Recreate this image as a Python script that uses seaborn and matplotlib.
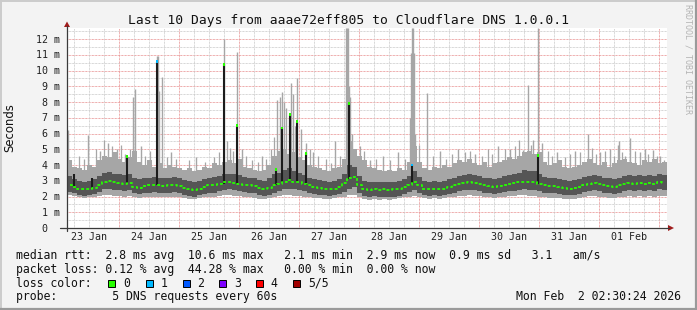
import matplotlib
matplotlib.use("Agg")
import matplotlib.pyplot as plt
import numpy as np
import pandas as pd
import seaborn as sns
from matplotlib.patches import Rectangle, Polygon
from matplotlib.lines import Line2D

sns.set_style("white")
plt.rcParams['font.family'] = ['DejaVu Sans Mono']

# ---------------- data ----------------
title = "Last 10 Days from aaae72eff805 to Cloudflare DNS 1.0.0.1"
ylabel = "Seconds"
watermark = "RRDTOOL / TOBI OETIKER"
day_labels = ["23 Jan", "24 Jan", "25 Jan", "26 Jan", "27 Jan",
              "28 Jan", "29 Jan", "30 Jan", "31 Jan", "01 Feb"]
ytick_values = [0, 1, 2, 3, 4, 5, 6, 7, 8, 9, 10, 11, 12]
ytick_labels = ["0  ", "1 m", "2 m", "3 m", "4 m", "5 m", "6 m", "7 m",
                "8 m", "9 m", "10 m", "11 m", "12 m"]

# window start (days after 23 Jan 00:00) and bucket length (hours)
window_start_day = 0.1333
bucket_hours = 2.0

# median rtt per 2h bucket (ms)
median = [2.75, 2.6, 2.5, 2.45, 2.5, 2.55, 2.75, 2.95, 3.0, 2.9,
          2.85, 2.8, 2.85, 2.6, 2.55, 2.65, 2.7, 2.75, 2.7, 2.65,
          2.7, 2.75, 2.65, 2.55, 2.5, 2.4, 2.5, 2.6, 2.7, 2.7,
          2.8, 2.9, 2.95, 2.85, 2.8, 2.75, 2.7, 2.65, 2.55, 2.45,
          2.55, 2.7, 2.8, 2.95, 3.05, 2.95, 2.9, 2.8, 2.7, 2.6,
          2.55, 2.5, 2.45, 2.5, 2.6, 2.85, 3.2, 3.25, 2.7, 2.45,
          2.4, 2.45, 2.4, 2.45, 2.4, 2.45, 2.5, 2.6, 2.75, 2.9,
          2.7, 2.5, 2.45, 2.5, 2.45, 2.5, 2.6, 2.7, 2.8, 2.85,
          2.9, 2.85, 2.8, 2.7, 2.65, 2.6, 2.65, 2.75, 2.8, 2.85,
          2.9, 2.95, 2.9, 2.9, 2.8, 2.7, 2.65, 2.65, 2.6, 2.55,
          2.5, 2.55, 2.6, 2.75, 2.8, 2.85, 2.8, 2.7, 2.65, 2.6,
          2.7, 2.8, 2.85, 2.8, 2.85, 2.8, 2.85, 2.8, 2.9, 2.85]

dark_lo = [2.3, 2.2, 2.1, 2.05, 2.1, 2.15, 2.3, 2.45, 2.5, 2.4,
           2.4, 2.35, 2.4, 2.2, 2.15, 2.2, 2.25, 2.3, 2.25, 2.2,
           2.25, 2.3, 2.2, 2.1, 2.05, 2.0, 2.1, 2.15, 2.25, 2.25,
           2.35, 2.4, 2.45, 2.4, 2.35, 2.3, 2.25, 2.2, 2.1, 2.05,
           2.1, 2.25, 2.35, 2.45, 2.5, 2.45, 2.4, 2.35, 2.25, 2.15,
           2.1, 2.1, 2.05, 2.1, 2.15, 2.3, 2.5, 2.6, 2.25, 2.05,
           2.0, 2.05, 2.0, 2.0, 1.95, 2.0, 2.05, 2.15, 2.3, 2.4,
           2.25, 2.1, 2.05, 2.1, 2.05, 2.1, 2.15, 2.25, 2.35, 2.4,
           2.4, 2.4, 2.35, 2.25, 2.2, 2.15, 2.2, 2.3, 2.35, 2.35,
           2.4, 2.45, 2.4, 2.4, 2.35, 2.25, 2.2, 2.2, 2.15, 2.1,
           2.1, 2.1, 2.15, 2.3, 2.35, 2.4, 2.35, 2.25, 2.2, 2.15,
           2.25, 2.35, 2.4, 2.35, 2.4, 2.35, 2.4, 2.35, 2.45, 2.4]

dark_hi = [3.3, 3.1, 3.0, 2.95, 3.0, 3.1, 3.3, 3.5, 3.55, 3.45,
           3.4, 3.35, 3.4, 3.15, 3.1, 3.2, 3.2, 3.25, 3.2, 3.15,
           3.2, 3.25, 3.15, 3.05, 3.0, 2.95, 3.0, 3.1, 3.2, 3.25,
           3.3, 3.4, 3.45, 3.4, 3.35, 3.25, 3.2, 3.15, 3.05, 3.0,
           3.15, 3.4, 3.5, 3.7, 3.8, 3.6, 3.5, 3.35, 3.2, 3.1,
           3.05, 3.0, 2.95, 3.0, 3.1, 3.4, 4.0, 3.9, 3.3, 3.0,
           2.9, 2.95, 2.9, 2.95, 2.9, 2.95, 3.0, 3.1, 3.3, 3.6,
           3.25, 3.0, 2.95, 3.0, 2.95, 3.0, 3.1, 3.2, 3.3, 3.35,
           3.4, 3.35, 3.3, 3.2, 3.15, 3.1, 3.15, 3.3, 3.35, 3.4,
           3.5, 3.7, 3.65, 3.6, 3.4, 3.25, 3.15, 3.15, 3.1, 3.05,
           3.0, 3.05, 3.1, 3.25, 3.3, 3.35, 3.3, 3.2, 3.15, 3.1,
           3.2, 3.3, 3.35, 3.3, 3.35, 3.3, 3.35, 3.3, 3.4, 3.35]

light_lo = [2.1, 2.05, 1.95, 1.9, 1.95, 2.0, 2.05, 2.1, 2.1, 2.05,
            2.05, 2.0, 2.05, 1.95, 1.9, 1.95, 2.0, 2.0, 1.95, 1.95,
            2.0, 2.0, 1.95, 1.9, 1.85, 1.85, 1.9, 1.95, 2.0, 2.0,
            2.05, 2.1, 2.1, 2.05, 2.05, 2.0, 1.95, 1.9, 1.85, 1.85,
            1.9, 2.0, 2.05, 2.1, 2.1, 2.05, 2.05, 2.0, 1.95, 1.9,
            1.9, 1.85, 1.85, 1.9, 1.95, 2.0, 2.1, 2.1, 1.95, 1.85,
            1.8, 1.85, 1.8, 1.85, 1.8, 1.85, 1.9, 1.95, 2.0, 2.05,
            1.95, 1.9, 1.85, 1.9, 1.85, 1.9, 1.95, 2.0, 2.05, 2.05,
            2.1, 2.05, 2.05, 2.0, 1.95, 1.9, 1.95, 2.0, 2.05, 2.05,
            2.1, 2.1, 2.05, 2.05, 2.0, 1.95, 1.9, 1.9, 1.9, 1.85,
            1.85, 1.85, 1.9, 2.0, 2.05, 2.05, 2.0, 1.95, 1.9, 1.9,
            1.95, 2.0, 2.05, 2.0, 2.05, 2.0, 2.05, 2.0, 2.05, 2.05]

light_hi = [4.3, 3.9, 3.8, 3.7, 4.0, 3.9, 4.3, 4.6, 4.5, 4.8,
            4.4, 4.2, 4.5, 4.9, 4.2, 4.0, 4.3, 3.9, 4.1, 3.8,
            4.0, 3.9, 3.8, 3.7, 3.8, 3.6, 3.7, 3.9, 3.8, 4.1,
            4.0, 4.2, 4.3, 4.1, 4.4, 3.9, 3.8, 3.7, 3.6, 3.7,
            4.0, 4.6, 4.9, 5.0, 4.7, 4.8, 4.5, 4.3, 4.0, 3.9,
            3.8, 3.7, 3.6, 3.8, 3.9, 4.4, 5.5, 5.0, 4.6, 4.3,
            3.9, 3.8, 3.7, 3.6, 3.7, 3.6, 3.8, 3.7, 4.2, 5.2,
            4.2, 3.8, 3.7, 3.9, 3.8, 4.0, 3.9, 4.1, 4.3, 4.2,
            4.4, 4.1, 4.0, 4.2, 3.9, 4.1, 4.2, 4.3, 4.5, 4.4,
            4.6, 4.8, 4.9, 4.7, 4.8, 4.2, 4.0, 4.1, 4.3, 3.9,
            3.8, 3.9, 4.0, 4.2, 4.4, 4.1, 4.0, 4.2, 3.9, 4.1,
            4.3, 4.4, 4.2, 4.1, 4.0, 4.3, 4.2, 4.4, 4.1, 4.2]

# single-ping outliers (thin smoke wisps): time (days after 23 Jan 00:00), max rtt (ms)
wisp_day = [0.150, 0.483, 0.683, 0.817, 0.967, 1.100, 1.233, 1.267, 1.367, 1.633,
            1.650, 1.667, 1.717, 1.867, 2.283, 2.750, 2.800, 2.850, 2.967, 3.050,
            3.383, 3.633, 3.683, 3.717, 3.750, 3.783, 3.867, 3.900, 3.967, 4.033,
            4.117, 4.233, 4.600, 4.783, 4.800, 4.817, 4.833, 4.850, 4.883, 5.183,
            5.400, 5.650, 5.850, 5.867, 5.883, 5.900, 5.917, 5.933, 6.133, 6.350,
            6.650, 6.933, 7.317, 7.517, 7.733, 7.817, 7.900, 7.983, 8.050, 8.300,
            8.600, 8.817, 9.017, 9.183, 9.317, 9.333, 9.433, 9.517, 9.683, 9.767,
            9.900, 10.017]
wisp_top = [6.2, 5.9, 4.9, 5.4, 5.0, 4.7, 8.3, 8.8, 5.2, 10.9,
            10.9, 8.7, 9.6, 4.8, 4.5, 12.0, 5.5, 5.1, 11.2, 5.0,
            4.6, 8.1, 8.3, 8.65, 8.0, 7.6, 9.2, 8.5, 9.5, 6.3,
            5.4, 4.8, 5.5, 12.7, 12.7, 12.7, 9.0, 8.3, 6.0, 4.3,
            4.6, 4.8, 7.0, 11.1, 12.7, 12.7, 11.1, 6.0, 8.6, 4.9,
            5.0, 4.7, 5.2, 5.0, 4.95, 9.1, 5.6, 12.7, 5.4, 4.8,
            4.9, 6.0, 4.8, 5.0, 5.3, 5.5, 4.6, 5.7, 4.8, 5.0,
            4.95, 4.6]

# smaller outliers that make the ragged top edge of the smoke
small_wisp_day = [0.333, 0.417, 0.617, 0.750, 0.883, 1.033, 1.183, 1.433, 1.517, 1.800,
                  1.950, 2.167, 2.433, 2.583, 2.667, 2.900, 3.117, 3.217, 3.317, 3.450,
                  3.533, 3.583, 3.833, 3.933, 4.183, 4.317, 4.450, 4.533, 4.683, 5.017,
                  5.083, 5.283, 5.517, 5.767, 6.000, 6.233, 6.450, 6.550, 6.767, 6.850,
                  7.050, 7.150, 7.217, 7.433, 7.600, 7.667, 7.867, 8.150, 8.217, 8.433,
                  8.517, 8.683, 8.883, 8.950, 9.100, 9.250, 9.383, 9.600, 9.817, 9.967,
                  10.083]
small_wisp_top = [4.6, 4.4, 5.0, 5.6, 5.2, 5.3, 5.0, 4.6, 4.9, 4.5,
                  4.4, 4.3, 4.2, 4.5, 4.8, 4.9, 4.6, 4.3, 4.2, 4.4,
                  5.0, 5.8, 7.0, 6.5, 5.0, 4.6, 4.4, 4.1, 4.6, 5.2,
                  4.9, 4.4, 4.3, 4.4, 5.3, 4.6, 4.4, 4.7, 4.8, 4.9,
                  4.6, 5.0, 4.7, 5.0, 5.2, 5.6, 5.3, 4.9, 4.6, 4.5,
                  4.7, 4.8, 5.1, 4.7, 4.9, 4.6, 4.8, 4.9, 4.7, 4.6,
                  4.3]

# median spikes: time (days), median before spike, median peak (ms), loss class at peak (-1 = none)
spike_day = [0.250, 0.550, 1.133, 1.633, 2.750, 2.967, 3.617, 3.717, 3.850, 3.967,
             4.117, 4.833, 5.883, 7.983]
spike_base = [2.6, 2.55, 2.85, 2.75, 2.8, 2.8, 2.75, 2.9, 3.0, 2.9,
              2.75, 3.1, 2.85, 2.8]
spike_top = [3.4, 3.2, 4.55, 10.55, 10.4, 6.5, 3.7, 6.35, 7.2, 6.75,
             4.75, 7.9, 4.0, 4.6]
spike_loss = [-1, -1, 0, 1, 0, 0, 0, 0, 0, 0, 0, 0, 1, 0]

# legend content
rtt_stats = [2.8, 10.6, 2.1, 2.9, 0.9, 3.1]
loss_stats = [0.12, 44.28, 0.00, 0.00]
loss_labels = ["0", "1", "2", "3", "4", "5/5"]
loss_colors = ["#26ff00", "#00b8ff", "#0059ff", "#7e00ff", "#ff0000", "#a10000"]
probe_text = "5 DNS requests every 60s"
timestamp = "Mon Feb  2 02:30:24 2026"

# ---------------- figure ----------------
W, H = 697, 310
PX_PER_MS = 15.75
fig = plt.figure(figsize=(W / 100, H / 100), dpi=100)
fig.patch.set_facecolor('#f3f3f3')


def fx(x):
    return x / W


def fy(y):
    return 1 - y / H


ax = fig.add_axes([fx(67), fy(228), 600 / W, 200 / H])
ax.set_facecolor('white')
ax.set_xlim(window_start_day, window_start_day + 10)
ax.set_ylim(0, 200 / PX_PER_MS)
for s in ax.spines.values():
    s.set_visible(False)
ax.set_xticks([])
ax.set_yticks([])

# grid
dot = (0, (0.72, 0.72))
for k in range(1, 26):
    v = k * 0.5
    if v > 12.7:
        break
    major = (k % 2 == 0)
    ax.axhline(v, color='#e88f8f' if major else '#c9c9c9', lw=0.72,
               ls=dot, zorder=0.5)
for k in range(0, 45):
    v = k * 0.25
    if v <= window_start_day or v >= window_start_day + 10:
        continue
    major = (k % 4 == 0)
    ax.axvline(v, color='#e88f8f' if major else '#c9c9c9', lw=0.72,
               ls=dot, zorder=0.5)

# smoke
n = len(median)
bucket_days = bucket_hours / 24.0
centers = window_start_day + (np.arange(n) + 0.5) * bucket_days
df = pd.DataFrame({"t": centers, "median": median, "dlo": dark_lo, "dhi": dark_hi,
                   "llo": light_lo, "lhi": light_hi})

light_col = '#a6a6a6'
dark_col = '#555555'
ax.bar(df.t, df.lhi - df.llo, bottom=df.llo, width=bucket_days,
       color=light_col, linewidth=0, antialiased=False, zorder=2)
ax.vlines(wisp_day, 3.0, wisp_top, colors=light_col, lw=1.0, zorder=2.1)
ax.vlines(small_wisp_day, 3.0, small_wisp_top, colors=light_col, lw=0.9, zorder=2.1)
ax.bar(df.t, df.dhi - df.dlo, bottom=df.dlo, width=bucket_days,
       color=dark_col, linewidth=0, antialiased=False, zorder=3)
ax.vlines(spike_day, spike_base, spike_top, colors='#1c1c1c', lw=1.5, zorder=4)

sns.lineplot(data=df, x="t", y="median", color=loss_colors[0], lw=1.3,
             drawstyle='steps-mid', dashes=False, ax=ax, zorder=5, legend=False,
             linestyle=(0, (1.6, 1.2)))
ax.set_xlabel("")
ax.set_ylabel("")

dots = [(d, t, loss_colors[c]) for d, t, c in zip(spike_day, spike_top, spike_loss) if c >= 0]
ax.scatter([d[0] for d in dots], [d[1] for d in dots], c=[d[2] for d in dots],
           marker='s', s=4, linewidths=0, zorder=6)

# tick labels
axis_fs = 7.2
for v, lab in zip(ytick_values, ytick_labels):
    ax.text(window_start_day - 7 / 60, v - 3.6 / PX_PER_MS, lab, ha='right',
            va='baseline', fontsize=axis_fs, color='#222222', clip_on=False)
for i, lab in enumerate(day_labels):
    ax.text(i + 0.5, -12.5 / PX_PER_MS, lab, ha='center', va='baseline',
            fontsize=axis_fs, color='#222222', clip_on=False)

# axes lines and arrows
axis_col = '#3a3a3a'
arrow_col = '#a01c1c'
fig.add_artist(Line2D([fx(60), fx(669)], [fy(228), fy(228)], color=axis_col, lw=0.9))
fig.add_artist(Line2D([fx(67), fx(67)], [fy(231), fy(26)], color=axis_col, lw=0.9))
fig.add_artist(Polygon([[fx(64), fy(27)], [fx(70), fy(27)], [fx(67), fy(21.5)]],
                       closed=True, color=arrow_col, lw=0))
fig.add_artist(Polygon([[fx(668), fy(225)], [fx(668), fy(231)], [fx(674), fy(228)]],
                       closed=True, color=arrow_col, lw=0))

# titles
fig.text(fx(348), fy(24), title, ha='center', va='baseline', fontsize=9.4, color='#111111')
fig.text(fx(10), fy(127.5), ylabel, ha='center', va='center', rotation=90,
         fontsize=8.4, color='#111111', family=['DejaVu Sans'])
fig.text(fx(688), fy(4), watermark, ha='center', va='top', rotation=270,
         fontsize=6.0, color='#b4b4b4')

# legend
leg_fs = 8.3
line1 = ("median rtt:  {:.1f} ms avg  {:.1f} ms max   {:.1f} ms min  {:.1f} ms now  "
         "{:.1f} ms sd   {:.1f}   am/s").format(*rtt_stats)
line2 = ("packet loss: {:.2f} % avg  {:.2f} % max   {:.2f} % min  {:.2f} % now"
         ).format(*loss_stats)
fig.text(fx(15.5), fy(259.3), line1, ha='left', va='baseline', fontsize=leg_fs, color='#111111')
fig.text(fx(15.5), fy(273.0), line2, ha='left', va='baseline', fontsize=leg_fs, color='#111111')
fig.text(fx(15.5), fy(286.7), "loss color:", ha='left', va='baseline', fontsize=leg_fs,
         color='#111111')
box_x = [108.3, 145.7, 182.7, 219.3, 256.0, 293.3]
for bx, lab, col in zip(box_x, loss_labels, loss_colors):
    fig.add_artist(Rectangle((fx(bx), fy(286.5)), 7 / W, 7 / H, facecolor=col,
                             edgecolor='#000000', lw=0.7))
    fig.text(fx(bx + 14.5), fy(286.7), lab, ha='left', va='baseline', fontsize=leg_fs,
             color='#111111')
fig.text(fx(15.5), fy(300.3), "probe:        " + probe_text, ha='left', va='baseline',
         fontsize=leg_fs, color='#111111')
fig.text(fx(680.5), fy(300.3), timestamp, ha='right', va='baseline', fontsize=leg_fs,
         color='#111111')

# frame (3D shade)
fig.add_artist(Line2D([0, 1], [fy(0.5), fy(0.5)], color='#cbcbcb', lw=1.4))
fig.add_artist(Line2D([fx(0.5), fx(0.5)], [0, 1], color='#cbcbcb', lw=1.4))
fig.add_artist(Line2D([0, 1], [fy(309), fy(309)], color='#9a9a9a', lw=1.6))
fig.add_artist(Line2D([fx(696), fx(696)], [0, 1], color='#9a9a9a', lw=1.6))

fig.savefig("out.png", dpi=100, facecolor=fig.get_facecolor())
